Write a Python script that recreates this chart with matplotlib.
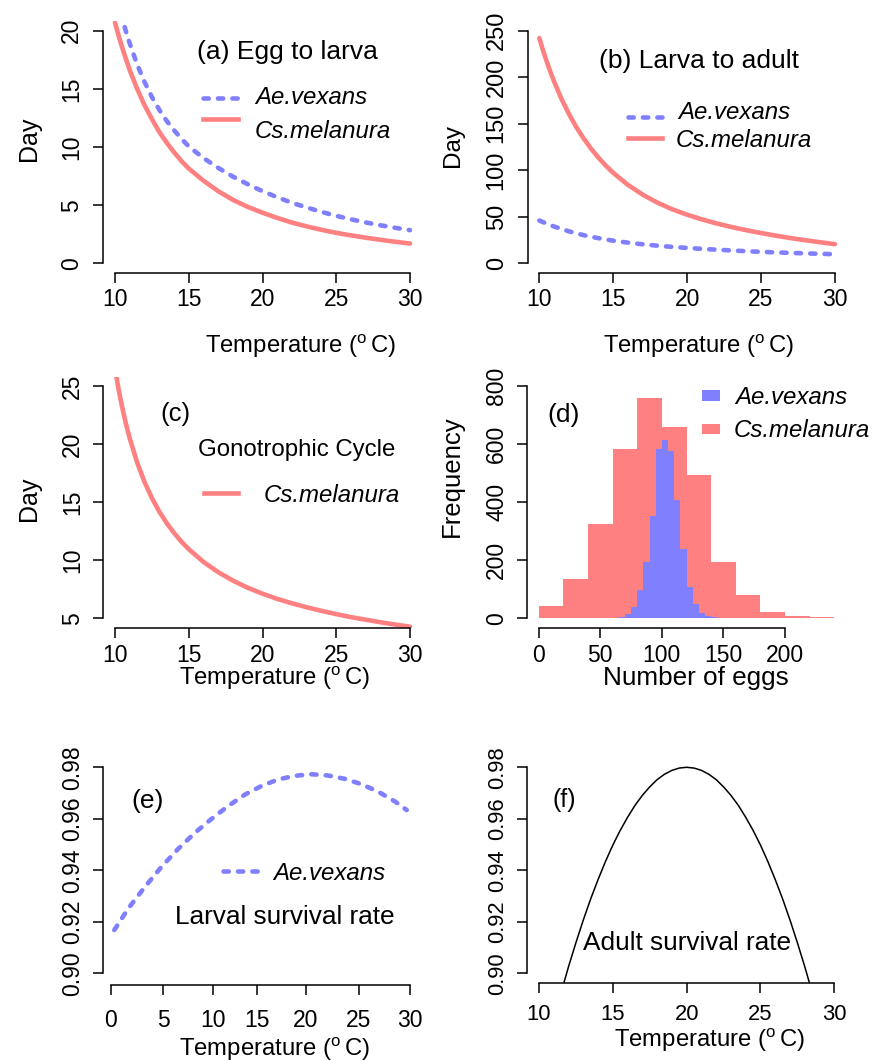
import matplotlib
matplotlib.use("Agg")
import matplotlib.pyplot as plt
from matplotlib.lines import Line2D
from matplotlib.patches import Rectangle

plt.rcParams['font.family'] = ['Liberation Sans', 'DejaVu Sans']
plt.rcParams['mathtext.fontset'] = 'custom'
plt.rcParams['mathtext.rm'] = 'Liberation Sans'

RED = '#FF8080'
BLUE = '#8080FF'

# ---------------- data ----------------
# (a) egg to larva development time (days)
a_temp = [10, 10.25, 10.5, 10.75, 11, 11.5, 12, 12.5, 13, 13.5, 14, 14.5,
          15, 16, 17, 18, 19, 20, 21, 22, 23, 24, 25, 26, 27, 28, 29, 30]
a_vexans = [24.0, 22.4, 21.0, 19.9, 18.9, 17.1, 15.6, 14.3, 13.2, 12.25,
            11.45, 10.72, 10.05, 9.05, 8.2, 7.45, 6.8, 6.2, 5.68, 5.2, 4.8,
            4.42, 4.08, 3.78, 3.51, 3.27, 3.05, 2.85]
a_melanura = [20.7, 19.55, 18.5, 17.53, 16.6, 15.0, 13.6, 12.4, 11.3,
              10.38, 9.55, 8.8, 8.15, 7.1, 6.2, 5.45, 4.85, 4.35, 3.9, 3.5,
              3.17, 2.88, 2.62, 2.4, 2.2, 2.02, 1.85, 1.7]

# (b) larva to adult development time (days)
b_temp = [10, 10.25, 10.5, 10.75, 11, 11.5, 12, 12.5, 13, 13.5, 14, 14.5,
          15, 16, 17, 18, 19, 20, 21, 22, 23, 24, 25, 26, 27, 28, 29, 30]
b_vexans = [46.0, 44.3, 42.6, 41.0, 39.5, 36.9, 34.4, 32.2, 30.2, 28.5,
            27.0, 25.6, 24.3, 22.2, 20.4, 18.9, 17.6, 16.5, 15.5, 14.6,
            13.8, 13.0, 12.3, 11.7, 11.2, 10.65, 10.2, 9.74]
b_melanura = [242.0, 228.9, 216.8, 205.7, 195.3, 176.7, 160.6, 146.4,
              134.1, 123.2, 113.5, 104.9, 97.2, 84.2, 73.7, 65.1, 58.0,
              52.2, 47.2, 42.8, 39.0, 35.6, 32.5, 29.7, 27.1, 24.8, 22.6,
              20.6]

# (c) gonotrophic cycle length (days)
c_temp = [10, 10.25, 10.5, 10.75, 11, 11.5, 12, 12.5, 13, 13.5, 14, 14.5,
          15, 16, 17, 18, 19, 20, 21, 22, 23, 24, 25, 26, 27, 28, 29, 30]
c_melanura = [26.5, 24.67, 23.09, 21.7, 20.48, 18.41, 16.74, 15.36, 14.19,
              13.2, 12.35, 11.6, 10.95, 9.85, 8.97, 8.24, 7.63, 7.12, 6.67,
              6.29, 5.95, 5.64, 5.36, 5.1, 4.88, 4.66, 4.46, 4.28]

# (d) number of eggs per batch: histogram counts
d_red_left = [0, 20, 40, 60, 80, 100, 120, 140, 160, 180, 200, 220]
d_red_counts = [42, 135, 324, 583, 758, 658, 494, 195, 80, 23, 8, 3]
d_blue_left = [65, 70, 75, 80, 85, 90, 95, 100, 105, 110, 115, 120, 125,
               130, 135, 140]
d_blue_counts = [3, 15, 38, 98, 195, 353, 583, 614, 577, 407, 238, 109,
                 48, 19, 8, 3]
d_red_width = 20
d_blue_width = 5

# (e) larval survival rate
e_temp = [0.33, 1.74, 3.41, 5.08, 6.76, 8.43, 10.1, 11.77, 13.44, 15.12,
          16.79, 18.46, 20.13, 21.8, 23.48, 25.15, 26.82, 28.5, 29.67]
e_vexans = [0.9168, 0.9252, 0.9336, 0.9414, 0.9484, 0.9546, 0.9600,
            0.9650, 0.9694, 0.9728, 0.9753, 0.9767, 0.9773, 0.9768,
            0.9755, 0.9734, 0.9705, 0.9667, 0.9634]
e_tick_pos = [0, 5.25, 10.27, 14.62, 19.57, 24.88, 30]
e_tick_lab = ['0', '5', '10', '15', '20', '25', '30']

# (f) adult survival rate
f_temp = [11.7, 12, 12.5, 13, 13.5, 14, 14.5, 15, 15.5, 16, 16.5, 17, 17.5,
          18, 18.5, 19, 19.5, 20, 20.5, 21, 21.5, 22, 22.5, 23, 23.5, 24,
          24.5, 25, 25.5, 26, 26.5, 27, 27.5, 28, 28.3]
f_adult = [0.8966, 0.9026, 0.9119, 0.9207, 0.9289, 0.9364, 0.9434, 0.9498,
           0.9555, 0.9606, 0.9652, 0.9691, 0.9724, 0.9752, 0.9773, 0.9788,
           0.9797, 0.9800, 0.9797, 0.9788, 0.9773, 0.9752, 0.9724, 0.9691,
           0.9652, 0.9606, 0.9555, 0.9498, 0.9434, 0.9364, 0.9289, 0.9207,
           0.9119, 0.9026, 0.8966]

temp_ticks = [10, 15, 20, 25, 30]
surv_ticks = [0.90, 0.92, 0.94, 0.96, 0.98]

# ---------------- layout helpers ----------------
W, H = 872, 1060
fig = plt.figure(figsize=(W / 100, H / 100), dpi=100)
FS = 16.5
LW = 3.3
DASH = (0, (1.15, 2.0))


def px_axes(x0, x1, y0, y1):
    return fig.add_axes([x0 / W, 1 - y1 / H, (x1 - x0) / W, (y1 - y0) / H])


def ftext(x, y, s, **kw):
    kw.setdefault('fontsize', FS)
    kw.setdefault('ha', 'left')
    kw.setdefault('va', 'baseline')
    fig.text(x / W, 1 - y / H, s, **kw)


def fline(x0, x1, y, **kw):
    fig.add_artist(Line2D([x0 / W, x1 / W], [1 - y / H, 1 - y / H],
                          transform=fig.transFigure, **kw))


def fbox(x0, x1, y0, y1, color):
    fig.add_artist(Rectangle((x0 / W, 1 - y1 / H), (x1 - x0) / W,
                             (y1 - y0) / H, transform=fig.transFigure,
                             color=color, lw=0))


def style(ax, xt, yt, xlab=None, ylab=None, xpad=4, ypad=7, fs=FS):
    for s in ('top', 'right'):
        ax.spines[s].set_visible(False)
    for s in ('left', 'bottom'):
        ax.spines[s].set_linewidth(1.1)
    ax.set_xticks(xt)
    ax.set_yticks(yt)
    if xlab is not None:
        ax.set_xticklabels(xlab)
    if ylab is not None:
        ax.set_yticklabels(ylab)
    ax.spines['bottom'].set_bounds(xt[0], xt[-1])
    ax.spines['left'].set_bounds(yt[0], yt[-1])
    ax.tick_params(axis='both', direction='out', length=7.5, width=1.1,
                   labelsize=fs)
    ax.tick_params(axis='x', pad=xpad)
    ax.tick_params(axis='y', pad=ypad, labelrotation=90)
    for lab in ax.get_yticklabels():
        lab.set_va('center')
    ax.patch.set_alpha(0)


TEMP_LABEL = r'Temperature ($^{\mathregular{o}}\,$C)'
TFS = 17.2
ITAL = dict(style='italic', fontsize=17.3)

# ---------------- (a) ----------------
ax = px_axes(103.2, 421.8, 21.4, 272.6)
ax.plot(a_temp, a_melanura, color=RED, lw=LW, solid_capstyle='round')
ax.plot(a_temp, a_vexans, color=BLUE, lw=LW, linestyle=DASH,
        dash_capstyle='round')
ax.set_xlim(9.2, 30.8)
ax.set_ylim(-0.8, 20.8)
style(ax, temp_ticks, [0, 5, 10, 15, 20], xpad=3.6, ypad=7.2)
ftext(196.7, 59.3, '(a) Egg to larva', fontsize=19)
fline(202.7, 238.3, 98.3, color=BLUE, lw=LW, linestyle=DASH,
      dash_capstyle='round')
fline(202.7, 238.3, 119, color=RED, lw=LW)
ftext(255, 104.3, 'Ae.vexans', **ITAL)
ftext(255, 137.7, 'Cs.melanura', **ITAL)
ftext(300.8, 352.7, TEMP_LABEL, ha='center', fontsize=TFS)
ftext(28.7, 139.2, 'Day', rotation=90, ha='center', va='center',
      fontsize=18)

# ---------------- (b) ----------------
ax = px_axes(527.5, 846.8, 21.4, 272.6)
ax.plot(b_temp, b_melanura, color=RED, lw=LW, solid_capstyle='round')
ax.plot(b_temp, b_vexans, color=BLUE, lw=LW, linestyle=DASH,
        dash_capstyle='round')
ax.set_xlim(9.2, 30.8)
ax.set_ylim(-10, 260)
style(ax, temp_ticks, [0, 50, 100, 150, 200, 250], xpad=3.6, ypad=6.8)
ax.tick_params(axis='y', labelsize=17)
ftext(599.3, 68.3, '(b) Larva to adult', fontsize=19)
fline(627.7, 662, 116.7, color=BLUE, lw=LW, linestyle=DASH,
      dash_capstyle='round')
fline(627.7, 662, 137.7, color=RED, lw=LW)
ftext(677.7, 119.3, 'Ae.vexans', **ITAL)
ftext(676, 146.7, 'Cs.melanura', **ITAL)
ftext(698.5, 352.7, TEMP_LABEL, ha='center', fontsize=TFS)
ftext(453, 145.8, 'Day', rotation=90, ha='center', va='center',
      fontsize=17.5)

# ---------------- (c) ----------------
ax = px_axes(103.2, 421.8, 376.7, 627.6)
ax.plot(c_temp, c_melanura, color=RED, lw=LW, solid_capstyle='round')
ax.set_xlim(9.2, 30.8)
ax.set_ylim(4.2, 25.8)
style(ax, temp_ticks, [5, 10, 15, 20, 25], xpad=4.3, ypad=6.2)
ftext(160, 420.7, '(c)', fontsize=18.5)
ftext(198.3, 456, 'Gonotrophic Cycle', fontsize=17.3)
fline(204, 238.3, 493.3, color=RED, lw=LW)
ftext(264, 501.7, 'Cs.melanura', **ITAL)
ftext(275, 685, TEMP_LABEL, ha='center', fontsize=TFS)
ftext(28.7, 498.8, 'Day', rotation=90, ha='center', va='center',
      fontsize=18)

# ---------------- (d) ----------------
ax = px_axes(526.9, 846.1, 376.7, 627.6)
ax.bar(d_red_left, d_red_counts, width=d_red_width, align='edge',
       color=RED, lw=0)
ax.bar(d_blue_left, d_blue_counts, width=d_blue_width, align='edge',
       color=BLUE, lw=0)
ax.set_xlim(-9.6, 249.6)
ax.set_ylim(-32, 832)
style(ax, [0, 50, 100, 150, 200], [0, 200, 400, 600, 800], xpad=4.3,
      ypad=6.0)
ftext(547.7, 421.7, '(d)', fontsize=19)
fbox(701.5, 720, 390, 400.7, BLUE)
fbox(701.5, 720, 424, 434, RED)
ftext(735.3, 404, 'Ae.vexans', **ITAL)
ftext(733.7, 437.3, 'Cs.melanura', **ITAL)
ftext(695.7, 685, 'Number of eggs', ha='center', fontsize=18.8)
ftext(452, 475.8, 'Frequency', rotation=90, ha='center', va='center',
      fontsize=18.5)

# ---------------- (e) ----------------
ax = px_axes(103.0, 418.9, 759.1, 985.0)
ax.plot(e_temp, e_vexans, color=BLUE, lw=LW, linestyle=DASH,
        dash_capstyle='round')
ax.set_xlim(-0.8, 30.89)
ax.set_ylim(0.89546, 0.98318)
style(ax, e_tick_pos, surv_ticks, xlab=e_tick_lab,
      ylab=['%.2f' % v for v in surv_ticks], xpad=9.5, ypad=6.0)
ftext(131.7, 808.3, '(e)', fontsize=19)
fline(223.3, 258.3, 870.7, color=BLUE, lw=LW, linestyle=DASH,
      dash_capstyle='round')
ftext(273.3, 880, 'Ae.vexans', **ITAL)
ftext(175, 924, 'Larval survival rate', fontsize=18.9)
ftext(275, 1056, TEMP_LABEL, ha='center', fontsize=TFS)

# ---------------- (f) ----------------
ax = px_axes(527.2, 846.1, 759.1, 983.1)
ax.plot(f_temp, f_adult, color='black', lw=1.1)
ax.set_xlim(9.2, 30.8)
ax.set_ylim(0.8962, 0.98318)
style(ax, temp_ticks, surv_ticks,
      ylab=['%.2f' % v for v in surv_ticks], xpad=7.2, ypad=6.0, fs=15.8)
ftext(552, 806.7, '(f)', fontsize=17.8)
ftext(582.7, 950, 'Adult survival rate', fontsize=18.9)
ftext(709.3, 1046.7, TEMP_LABEL, ha='center', fontsize=TFS)

fig.savefig('out.png', dpi=100)
